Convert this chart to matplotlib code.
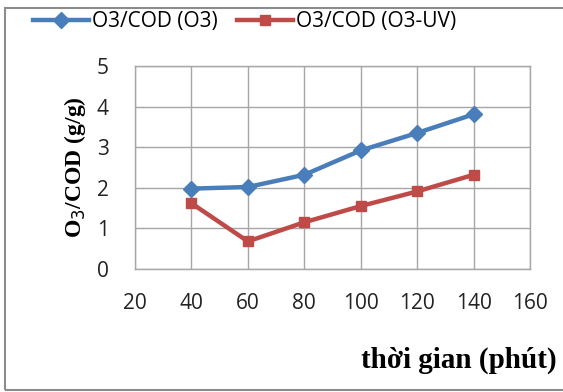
import matplotlib
matplotlib.use("Agg")
import matplotlib.pyplot as plt
from matplotlib.patches import Rectangle

time_min = [40, 60, 80, 100, 120, 140]
o3 = [1.98, 2.02, 2.32, 2.92, 3.35, 3.81]
o3_uv = [1.62, 0.68, 1.15, 1.55, 1.91, 2.32]
x_ticks = [20, 40, 60, 80, 100, 120, 140, 160]
y_ticks = [0, 1, 2, 3, 4, 5]

W, H = 563, 392
fig = plt.figure(figsize=(W / 100, H / 100), dpi=100)
ax = fig.add_axes([135 / W, 1 - 269 / H, (530 - 135) / W, (269 - 66) / H])

ax.plot(time_min, o3, color="#4a7ebb", lw=3.2, marker="D", ms=8, label="O3/COD (O3)")
ax.plot(time_min, o3_uv, color="#be4b48", lw=3.2, marker="s", ms=7, label="O3/COD (O3-UV)")

ax.set_xlim(20, 160)
ax.set_ylim(0, 5)
ax.set_xticks(x_ticks)
ax.set_yticks(y_ticks)
ax.grid(True, color="#a6a6a6", lw=1)
ax.set_axisbelow(True)
for s in ax.spines.values():
    s.set_color("#a6a6a6")
    s.set_linewidth(1)
ax.tick_params(length=0, labelsize=15, colors="#222222")
ax.tick_params(axis="y", pad=19)
ax.tick_params(axis="x", pad=17)
for lbl in ax.get_xticklabels() + ax.get_yticklabels():
    lbl.set_family("Open Sans")

ax.set_ylabel("O$_3$/COD (g/g)", family="Liberation Serif", fontweight="bold",
              fontsize=17, labelpad=6)
fig.text(557 / W, 1 - 360 / H, "thời gian (phút)", family="Liberation Serif",
         fontweight="bold", fontsize=21, ha="right", va="center")

leg = fig.legend(loc="center left", bbox_to_anchor=(14 / W, 1 - 22 / H), ncol=2,
                 frameon=False, prop={"family": "Open Sans", "size": 15},
                 handlelength=2.7, columnspacing=0.9, handletextpad=0.15)

fig.patches.append(Rectangle((5 / W, 0.005), 1.2, 1 - 8 / H - 0.005, transform=fig.transFigure,
                             fill=False, edgecolor="#8c8c8c", lw=1.5))

fig.savefig("out.png", dpi=100)
